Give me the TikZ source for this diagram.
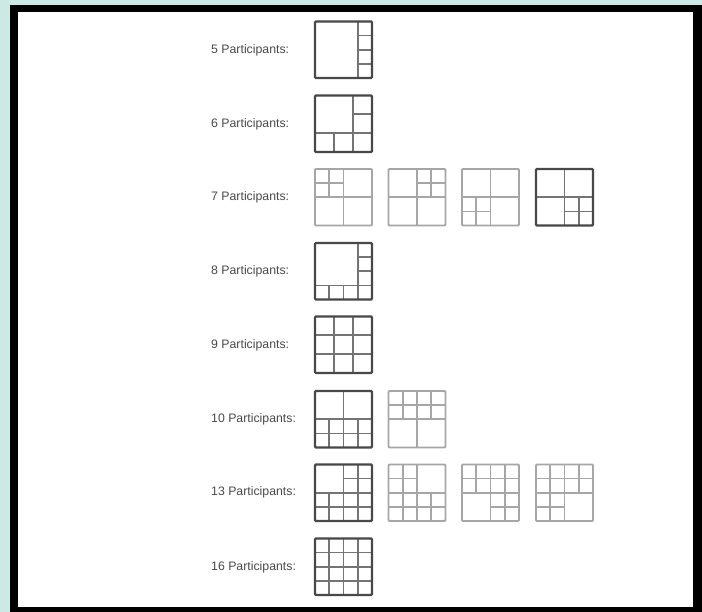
\documentclass[tikz,border=0pt]{standalone}
\usepackage{fontspec}
\setmainfont{Liberation Sans}
\definecolor{teal0}{HTML}{CCE9E5}
\definecolor{dkout}{HTML}{484848}
\definecolor{dkin}{HTML}{747474}
\definecolor{ltline}{HTML}{A6A6A6}
\definecolor{lbl}{HTML}{4A4A4A}
\tikzset{
  dko/.style={draw=dkout, line width=2.2pt, rounded corners=1pt},
  dki/.style={draw=dkin, line width=1.7pt},
  lto/.style={draw=ltline, line width=1.8pt, rounded corners=1pt},
  lti/.style={draw=ltline, line width=1.6pt},
  lab/.style={anchor=west, inner sep=0pt, text=lbl, font=\fontsize{12.3}{14}\selectfont},
  cell/.style={x=57pt, y=-56.5pt}
}
\begin{document}
\begin{tikzpicture}[x=1pt, y=-1pt]
\useasboundingbox (0,0) rectangle (702,612);
\fill[teal0] (0,0) rectangle (702,612);
\fill[black] (10,5) rectangle (702,612);
\fill[white] (18,12) rectangle (693,607);

% labels
\node[lab] (l5) at (211,50) {5 Participants:};
\node[lab] (l6) at (211,124) {6 Participants:};
\node[lab] (l7) at (211,197.5) {7 Participants:};
\node[lab] (l8) at (211,271.5) {8 Participants:};
\node[lab] (l9) at (211,345) {9 Participants:};
\node[lab] (l10) at (211,419) {10 Participants:};
\node[lab] (l13) at (211,492.5) {13 Participants:};
\node[lab] (l16) at (211,567) {16 Participants:};

% 5
\begin{scope}[shift={(315,21.5)}, cell]
\draw[dki] (0.75,0)--(0.75,1) (0.75,0.25)--(1,0.25) (0.75,0.5)--(1,0.5) (0.75,0.75)--(1,0.75);
\draw[dko] (0,0) rectangle (1,1);
\end{scope}
% 6
\begin{scope}[shift={(315,95.5)}, cell]
\draw[dki] (2/3,0)--(2/3,1) (0,2/3)--(1,2/3) (2/3,1/3)--(1,1/3) (1/3,2/3)--(1/3,1);
\draw[dko] (0,0) rectangle (1,1);
\end{scope}
% 7
\begin{scope}[shift={(315,169)}, cell]
\draw[lti] (0.5,0)--(0.5,1) (0,0.5)--(1,0.5) (0.25,0)--(0.25,0.5) (0,0.25)--(0.5,0.25);
\draw[lto] (0,0) rectangle (1,1);
\end{scope}
\begin{scope}[shift={(388.5,169)}, cell]
\draw[lti] (0.5,0)--(0.5,1) (0,0.5)--(1,0.5) (0.75,0)--(0.75,0.5) (0.5,0.25)--(1,0.25);
\draw[lto] (0,0) rectangle (1,1);
\end{scope}
\begin{scope}[shift={(462,169)}, cell]
\draw[lti] (0.5,0)--(0.5,1) (0,0.5)--(1,0.5) (0.25,0.5)--(0.25,1) (0,0.75)--(0.5,0.75);
\draw[lto] (0,0) rectangle (1,1);
\end{scope}
\begin{scope}[shift={(536,169)}, cell]
\draw[dki] (0.5,0)--(0.5,1) (0,0.5)--(1,0.5) (0.75,0.5)--(0.75,1) (0.5,0.75)--(1,0.75);
\draw[dko] (0,0) rectangle (1,1);
\end{scope}
% 8
\begin{scope}[shift={(315,243)}, cell]
\draw[dki] (0.75,0)--(0.75,1) (0,0.75)--(1,0.75) (0.75,0.25)--(1,0.25) (0.75,0.5)--(1,0.5) (0.25,0.75)--(0.25,1) (0.5,0.75)--(0.5,1);
\draw[dko] (0,0) rectangle (1,1);
\end{scope}
% 9
\begin{scope}[shift={(315,316.5)}, cell]
\draw[dki] (1/3,0)--(1/3,1) (2/3,0)--(2/3,1) (0,1/3)--(1,1/3) (0,2/3)--(1,2/3);
\draw[dko] (0,0) rectangle (1,1);
\end{scope}
% 10
\begin{scope}[shift={(315,391)}, cell]
\draw[dki] (0.5,0)--(0.5,1) (0,0.5)--(1,0.5) (0,0.75)--(1,0.75) (0.25,0.5)--(0.25,1) (0.75,0.5)--(0.75,1);
\draw[dko] (0,0) rectangle (1,1);
\end{scope}
\begin{scope}[shift={(388.5,391)}, cell]
\draw[lti] (0.5,0)--(0.5,1) (0,0.5)--(1,0.5) (0,0.25)--(1,0.25) (0.25,0)--(0.25,0.5) (0.75,0)--(0.75,0.5);
\draw[lto] (0,0) rectangle (1,1);
\end{scope}
% 13
\begin{scope}[shift={(315,464.5)}, cell]
\draw[dki] (0.5,0)--(0.5,1) (0,0.5)--(1,0.5) (0.25,0.5)--(0.25,1) (0.75,0)--(0.75,1) (0,0.75)--(1,0.75) (0.5,0.25)--(1,0.25);
\draw[dko] (0,0) rectangle (1,1);
\end{scope}
\begin{scope}[shift={(388.5,464.5)}, cell]
\draw[lti] (0.5,0)--(0.5,1) (0,0.5)--(1,0.5) (0.25,0)--(0.25,1) (0.75,0.5)--(0.75,1) (0,0.25)--(0.5,0.25) (0,0.75)--(1,0.75);
\draw[lto] (0,0) rectangle (1,1);
\end{scope}
\begin{scope}[shift={(462,464.5)}, cell]
\draw[lti] (0.5,0)--(0.5,1) (0,0.5)--(1,0.5) (0.25,0)--(0.25,0.5) (0.75,0)--(0.75,1) (0,0.25)--(1,0.25) (0.5,0.75)--(1,0.75);
\draw[lto] (0,0) rectangle (1,1);
\end{scope}
\begin{scope}[shift={(536,464.5)}, cell]
\draw[lti] (0.5,0)--(0.5,1) (0,0.5)--(1,0.5) (0.25,0)--(0.25,1) (0.75,0)--(0.75,0.5) (0,0.25)--(1,0.25) (0,0.75)--(0.5,0.75);
\draw[lto] (0,0) rectangle (1,1);
\end{scope}
% 16
\begin{scope}[shift={(315,538.5)}, cell]
\draw[dki] (0.25,0)--(0.25,1) (0.5,0)--(0.5,1) (0.75,0)--(0.75,1) (0,0.25)--(1,0.25) (0,0.5)--(1,0.5) (0,0.75)--(1,0.75);
\draw[dko] (0,0) rectangle (1,1);
\end{scope}
\end{tikzpicture}
\end{document}
